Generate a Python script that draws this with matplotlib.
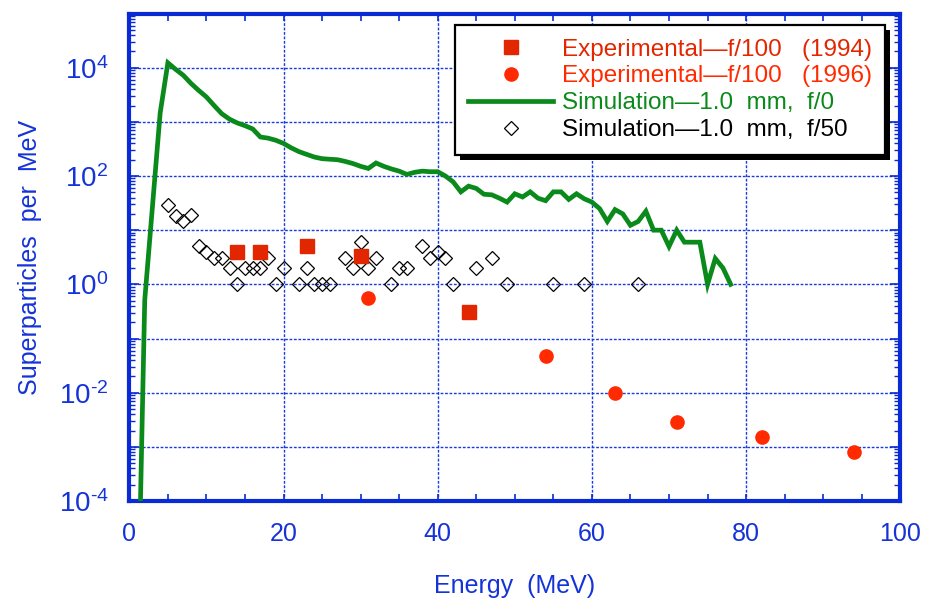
import matplotlib
matplotlib.use("Agg")
import matplotlib.pyplot as plt
from matplotlib.ticker import FixedLocator, FuncFormatter, LogLocator, MultipleLocator, NullFormatter
from matplotlib.patches import Rectangle
from matplotlib.transforms import IdentityTransform
import numpy as np

plt.rcParams['font.family'] = ['Liberation Sans', 'DejaVu Sans']
plt.rcParams['mathtext.fontset'] = 'custom'
plt.rcParams['mathtext.rm'] = 'Liberation Sans'
plt.rcParams['mathtext.it'] = 'Liberation Sans'

# ---- data ----
# Experimental f/100 (1994)
exp94_energy = [14, 17, 23, 30, 44]
exp94_counts = [4.0, 4.0, 5.2, 3.4, 0.31]

# Experimental f/100 (1996)
exp96_energy = [31, 54, 63, 71, 82, 94]
exp96_counts = [0.55, 0.048, 0.0098, 0.0029, 0.0015, 0.00081]

# Simulation 1.0 mm, f/0
sim0_energy = [1, 2, 4, 5, 6, 7, 8, 9, 10, 11, 12, 13, 14, 15, 16, 17, 18, 19, 20,
               21, 22, 23, 24, 25, 26, 27, 28, 29, 30, 31, 32, 33, 34, 35, 36, 37,
               38, 39, 40, 41, 42, 43, 44, 45, 46, 47, 48, 49, 50, 51, 52, 53, 54,
               55, 56, 57, 58, 59, 60, 61, 62, 63, 64, 65, 66, 67, 68, 69, 70, 71,
               72, 73, 74, 75, 76, 77, 78]
sim0_counts = [1e-7, 0.51, 1450, 12300, 9330, 7240, 5130, 3800, 2880, 2000, 1410,
               1120, 955, 850, 740, 525, 500, 457, 400,
               331, 282, 251, 224, 209, 204, 200, 186, 170, 151, 138, 174, 151,
               135, 123, 107, 117, 123, 120, 120, 100, 78, 51, 65, 59, 46, 45, 39,
               33, 47, 41, 51, 39, 35, 51, 51, 37, 47, 38, 33, 25, 14.5, 24, 20,
               12.3, 14.5, 22.4, 10, 10, 5, 10, 6, 6, 6, 1, 3, 2, 1]

# Simulation 1.0 mm, f/50
sim50_energy = [5, 6, 7, 8, 9, 10, 11, 12, 13, 14, 15, 16, 17, 18, 19, 20, 22, 23,
                24, 25, 26, 28, 29, 30, 31, 32, 34, 35, 36, 38, 39, 40, 41, 42, 45,
                47, 49, 55, 59, 66]
sim50_counts = [29, 18, 15, 19, 5, 4, 3, 3, 2, 1, 2, 2, 2, 3, 1, 2, 1, 2,
                1, 1, 1, 3, 2, 6, 2, 3, 1, 2, 2, 5, 3, 4, 3, 1, 2,
                3, 1, 1, 1, 1]

x_ticks = [0, 20, 40, 60, 80, 100]
decades = list(range(-4, 6))

BLUE = '#0a2ad6'
TXT_BLUE = '#1433d8'
GREEN = '#0b8a1c'
RED_SQ = '#e22600'
RED_CI = '#ff2a00'

fig = plt.figure(figsize=(9.27, 6.01), dpi=100)
ax = fig.add_axes([0.1395, 0.1664, 0.8317, 0.8111])

ax.plot(sim0_energy, sim0_counts, color=GREEN, lw=3.4, zorder=3,
        label='Simulation\u20141.0  mm,  f/0', solid_joinstyle='miter')
ax.plot(sim50_energy, sim50_counts, ls='none', marker='D', ms=7.0, mfc='none',
        mec='black', mew=0.9, zorder=4, label='Simulation\u20141.0  mm,  f/50')
ax.plot(exp94_energy, exp94_counts, ls='none', marker='s', ms=10, mfc=RED_SQ,
        mec=RED_SQ, zorder=5, label='Experimental\u2014f/100   (1994)')
ax.plot(exp96_energy, exp96_counts, ls='none', marker='o', ms=9.5, mfc=RED_CI,
        mec=RED_CI, zorder=5, label='Experimental\u2014f/100   (1996)')

ax.set_yscale('log')
ax.set_xlim(0, 100)
ax.set_ylim(1e-4, 1e5)

# ticks
ax.xaxis.set_major_locator(FixedLocator(x_ticks))
ax.xaxis.set_minor_locator(MultipleLocator(5))
ax.yaxis.set_major_locator(FixedLocator([10.0 ** d for d in decades]))
ax.yaxis.set_minor_locator(LogLocator(base=10, subs=np.arange(2, 10), numticks=20))
ax.yaxis.set_minor_formatter(NullFormatter())


def ylab(v, pos):
    e = int(round(np.log10(v)))
    if e % 2 == 0 and e < 5:
        if e < 0:
            return r'$\mathregular{10^{\text{-}%d}}$' % (-e)
        return r'$\mathregular{10^{%d}}$' % e
    return ''


ax.yaxis.set_major_formatter(FuncFormatter(ylab))
ax.tick_params(axis='both', which='both', direction='in', color=BLUE,
               top=True, right=True, labelcolor=TXT_BLUE)
ax.tick_params(axis='y', which='major', length=7, width=1.2, labelsize=20, pad=15)
ax.tick_params(axis='y', which='minor', length=4, width=1.0)
ax.tick_params(axis='x', which='major', length=5, width=1.2, labelsize=18, pad=15)
ax.tick_params(axis='x', which='minor', length=5, width=1.2)

for s in ax.spines.values():
    s.set_color(BLUE)
    s.set_linewidth(3.0)

# grid
ax.grid(True, which='major', color='#1a3ae0', lw=1.0, ls=(0, (2.0, 1.2)), zorder=1)

ax.set_xlabel('Energy  (MeV)', fontsize=18, color=TXT_BLUE, labelpad=20)
ax.set_ylabel('Superparticles  per  MeV', fontsize=18, color=TXT_BLUE, labelpad=12)

# legend
handles, labels = ax.get_legend_handles_labels()
order = [2, 3, 0, 1]
leg = ax.legend([handles[i] for i in order], [labels[i] for i in order],
                loc='upper right', bbox_to_anchor=(0.980, 0.976), borderaxespad=0,
                fontsize=17.5, frameon=True, fancybox=False, handlelength=3.5,
                handletextpad=0.33, labelspacing=0.2, borderpad=0.55,
                edgecolor='black', framealpha=1)
leg.get_frame().set_linewidth(1.6)
leg.set_zorder(10)
text_colors = [RED_SQ, RED_CI, GREEN, 'black']
for t, c in zip(leg.get_texts(), text_colors):
    t.set_color(c)

fig.canvas.draw()
bb = leg.get_window_extent()
off = 5
shadow = Rectangle((bb.x0 + off, bb.y0 - off), bb.width, bb.height,
                   transform=IdentityTransform(), facecolor='black',
                   edgecolor='none', zorder=9, clip_on=False)
ax.add_artist(shadow)

fig.savefig('out.png', dpi=100)
